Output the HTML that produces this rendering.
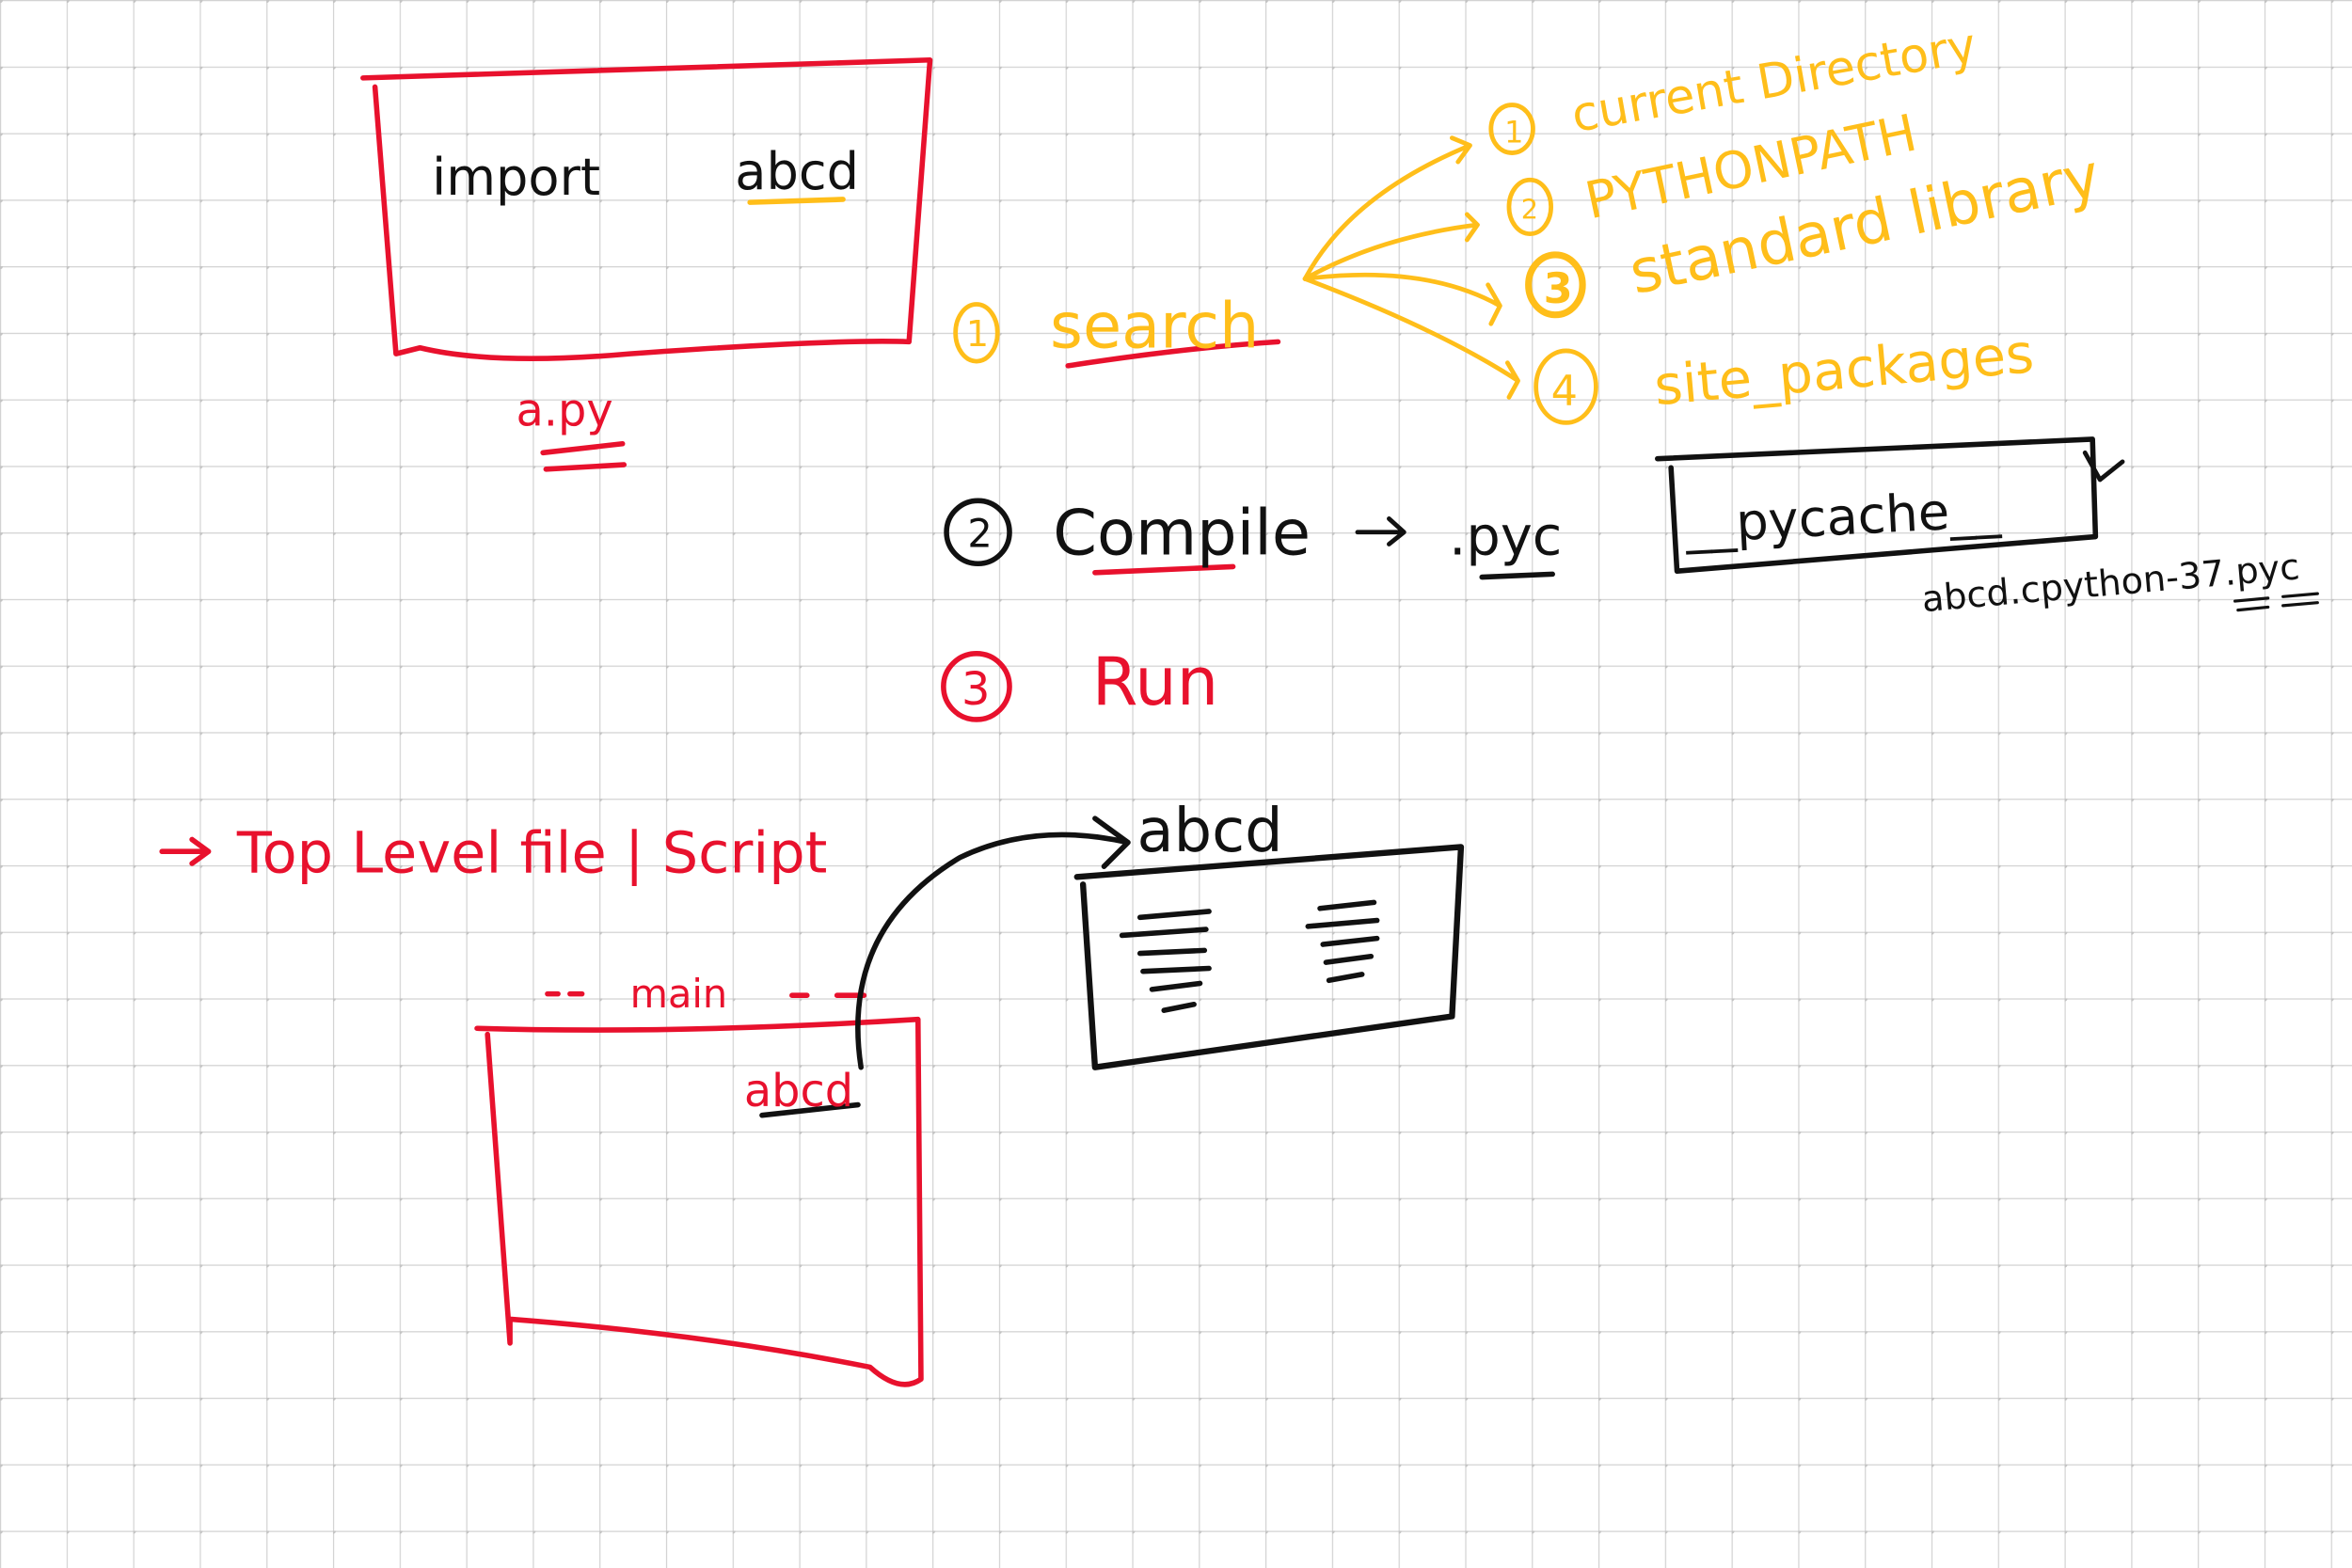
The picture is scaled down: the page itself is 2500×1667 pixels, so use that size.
<!DOCTYPE html>
<html><head><meta charset="utf-8"><style>
html,body{margin:0;padding:0;background:#fff}
svg{display:block}
text{font-family:"DejaVu Sans","Liberation Sans",sans-serif}
</style></head><body>
<svg width="2500" height="1667" viewBox="0 0 1568 1046" preserveAspectRatio="none" xmlns="http://www.w3.org/2000/svg">
<defs>
<pattern id="g" width="44.4" height="44.4" patternUnits="userSpaceOnUse">
<path d="M0 0H44.4M0 0V44.4" stroke="#d2d2d2" stroke-width="1.5" fill="none"/>
<circle cx="0" cy="0" r="2" fill="#c4c4c4"/>
</pattern>
</defs>
<rect width="1568" height="1046" fill="url(#g)"/>
<g fill="none" stroke-linecap="round" stroke-linejoin="round">
<path d="M242 52 L620 40 L606 228 Q560 226 420 236 Q330 244 280 232 L264 236 L250 58" stroke="#e8112d" stroke-width="3.5"/>
<path d="M500 135 L562 133" stroke="#ffbe1a" stroke-width="3.5"/>
<path d="M362 302 L415 296 M364 313 L416 310" stroke="#e8112d" stroke-width="3.5"/>
<path d="M712 244 Q790 232 852 228" stroke="#e8112d" stroke-width="3.5"/>
<g stroke="#ffbe1a" stroke-width="3">
<path d="M870 186 Q900 130 980 97 M968 92 L980 97 L972 108"/>
<path d="M870 186 Q920 158 985 150 M978 143 L985 150 L978 160"/>
<path d="M870 186 Q950 176 1000 204 M992 190 L1000 204 L994 216"/>
<path d="M870 186 Q960 220 1012 254 M1005 242 L1012 254 L1006 265"/>
<ellipse cx="651" cy="222" rx="14" ry="19"/>
<ellipse cx="1008" cy="86" rx="14" ry="16"/>
<ellipse cx="1020" cy="138" rx="14" ry="18"/>
<ellipse cx="1037" cy="190" rx="18" ry="20" stroke-width="4.5"/>
<ellipse cx="1044" cy="258" rx="20" ry="24"/>
</g>
<circle cx="652" cy="355" r="21" stroke="#111" stroke-width="3.5"/>
<path d="M730 382 L822 378" stroke="#e8112d" stroke-width="3.5"/>
<path d="M988 385 L1035 383" stroke="#111" stroke-width="3.5"/>
<path d="M905 355 L935 355 M926 346 L936 355 L926 363" stroke="#111" stroke-width="3"/>
<path d="M1105 306 L1395 293 L1397 358 L1118 381 L1114 312" stroke="#111" stroke-width="3.5"/>
<path d="M1390 302 L1400 320 L1415 308" stroke="#111" stroke-width="3"/>
<path d="M1490 401 L1512 399 M1492 407 L1512 405 M1522 398 L1545 396 M1522 404 L1545 402" stroke="#111" stroke-width="2"/>
<circle cx="651" cy="458" r="22" stroke="#e8112d" stroke-width="3.5"/>
<path d="M108 568 L138 568 M128 560 L139 568 L128 576" stroke="#e8112d" stroke-width="3.5"/>
<path d="M318 686 Q450 690 612 680 L614 920 Q600 930 580 912 Q470 890 340 880 L340 896 L325 690" stroke="#e8112d" stroke-width="3.5"/>
<path d="M365 663 L372 663 M380 663 L388 663 M528 664 L538 664 M558 664 L576 664" stroke="#e8112d" stroke-width="3.5"/>
<path d="M508 744 L572 737" stroke="#111" stroke-width="3.5"/>
<path d="M574 712 Q560 620 640 572 Q690 548 752 562 M730 546 L752 562 L736 578" stroke="#111" stroke-width="3.5"/>
<path d="M718 585 L974 565 L968 678 L730 712 L722 590" stroke="#111" stroke-width="4"/>
<g stroke="#111" stroke-width="3.5">
<path d="M760 612 L806 608 M748 624 L804 620 M760 636 L803 634 M762 648 L806 646 M768 660 L800 656 M776 674 L796 670"/>
<path d="M880 606 L916 602 M872 618 L918 614 M882 630 L918 626 M884 642 L914 638 M886 654 L908 650"/>
</g>
</g>
<g font-size="34">
<text x="288" y="130" fill="#111">import</text>
<text x="490" y="126" fill="#111">abcd</text>
<text x="344" y="284" fill="#e8112d" font-size="30">a.py</text>
<text x="644" y="231" fill="#ffbe1a" font-size="24">1</text>
<text x="1003" y="95" fill="#ffbe1a" font-size="20">1</text>
<text x="1014" y="146" fill="#ffbe1a" font-size="18">2</text>
<text x="1029" y="202" fill="#ffbe1a" font-size="28" font-weight="bold">3</text>
<text x="1034" y="270" fill="#ffbe1a" font-size="28">4</text>
<text x="645" y="365" fill="#111" font-size="26">2</text>
<text x="641" y="470" fill="#e8112d" font-size="30">3</text>
<text x="700" y="232" fill="#ffbe1a" font-size="42">search</text>
<text x="1050" y="88" fill="#ffbe1a" font-size="32" transform="rotate(-10 1050 88)">current Directory</text>
<text x="1060" y="146" fill="#ffbe1a" font-size="34" transform="rotate(-12 1060 146)">PYTHONPATH</text>
<text x="1090" y="196" fill="#ffbe1a" font-size="40" transform="rotate(-12 1090 196)">standard library</text>
<text x="1104" y="270" fill="#ffbe1a" font-size="36" transform="rotate(-5 1104 270)">site_packages</text>
<text x="702" y="370" fill="#111" font-size="42">Compile</text>
<text x="966" y="370" fill="#111" font-size="36">.pyc</text>
<text x="1124" y="362" fill="#111" font-size="34" transform="rotate(-3 1124 362)">__pycache__</text>
<text x="1282" y="408" fill="#111" font-size="24" transform="rotate(-5 1282 408)">abcd.cpython-37.pyc</text>
<text x="728" y="470" fill="#e8112d" font-size="44">Run</text>
<text x="158" y="582" fill="#e8112d" font-size="38">Top Level file | Script</text>
<text x="420" y="672" fill="#e8112d" font-size="26">main</text>
<text x="496" y="738" fill="#e8112d" font-size="30">abcd</text>
<text x="758" y="568" fill="#111" font-size="40">abcd</text>
</g>
</svg>
</body></html>
